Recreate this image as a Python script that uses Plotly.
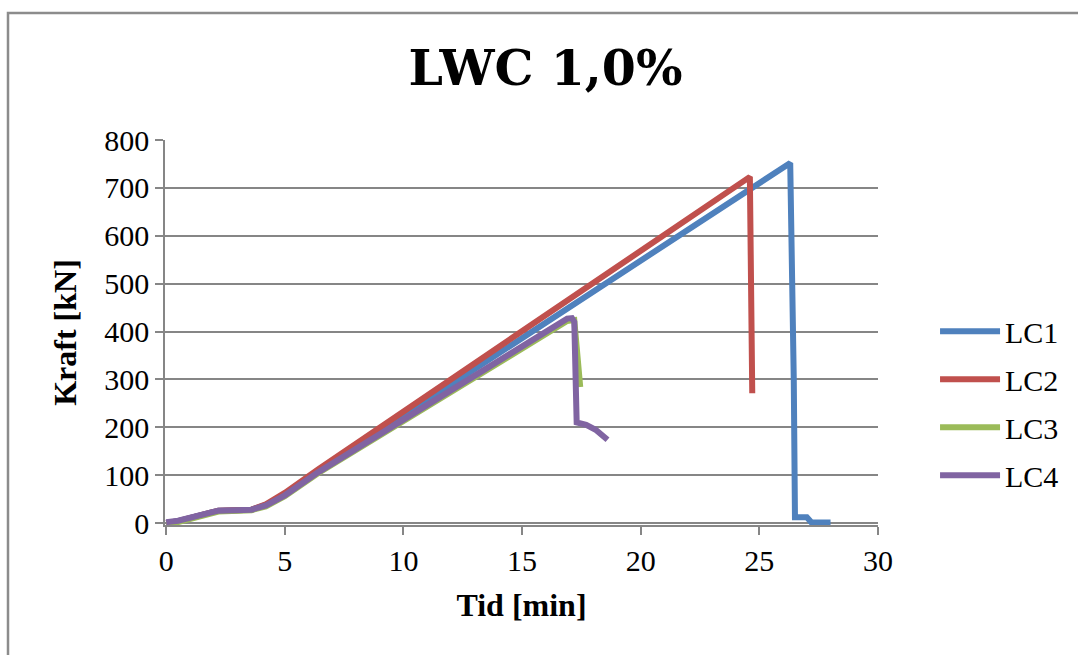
import plotly.graph_objects as go

# Data (Tid [min], Kraft [kN])
lc1_t = [0.0, 0.5, 2.2, 3.6, 4.2, 5.0, 6.4, 26.3, 26.45, 26.5, 27.0, 27.2, 28.0]
lc1_f = [0, 4, 26, 28, 38, 60, 108, 752, 300, 12, 12, 1, 1]

lc2_t = [0.0, 0.5, 2.2, 3.6, 4.2, 5.0, 6.4, 24.6, 24.7]
lc2_f = [0, 4, 26, 28, 39, 63, 112, 723, 271]

lc3_t = [0.0, 0.5, 2.2, 3.6, 4.2, 5.0, 6.4, 16.9, 17.2, 17.45]
lc3_f = [0, 2, 24, 27, 35, 56, 104, 422, 424, 284]

lc4_t = [0.0, 0.5, 2.2, 3.6, 4.2, 5.0, 6.4, 16.9, 17.1, 17.2, 17.3, 17.7, 18.1, 18.6]
lc4_f = [2, 5, 26, 28, 37, 58, 106, 427, 428, 420, 210, 205, 195, 174]

series = [
    ("LC1", lc1_t, lc1_f, "#4F81BD"),
    ("LC2", lc2_t, lc2_f, "#C0504D"),
    ("LC3", lc3_t, lc3_f, "#9BBB59"),
    ("LC4", lc4_t, lc4_f, "#8064A2"),
]

x_ticks = [0, 5, 10, 15, 20, 25, 30]
y_ticks = [0, 100, 200, 300, 400, 500, 600, 700, 800]

serif = "Liberation Serif"
fig = go.Figure()
for name, t, f, c in series:
    fig.add_trace(go.Scatter(x=t, y=f, name=name, mode="lines", legendgroup=name,
                             line=dict(color=c, width=6)))

gray = "#868686"
fig.update_layout(
    width=1078, height=655,
    margin=dict(l=165, r=200, t=140, b=130),
    paper_bgcolor="white", plot_bgcolor="white",
    title=dict(text="<b>LWC 1,0%</b>", x=0.506, xanchor="center", y=0.896, yanchor="middle",
               font=dict(family="DejaVu Serif", size=49, color="black")),
    font=dict(family=serif, size=30, color="black"),
    showlegend=True,
    legend=dict(x=1.08, y=0.316, xanchor="left", yanchor="middle",
                font=dict(family=serif, size=30), traceorder="grouped", tracegroupgap=6,
                itemwidth=60, bgcolor="rgba(0,0,0,0)"),
    xaxis=dict(range=[-0.05, 30], tickvals=x_ticks, showgrid=False, zeroline=False,
               showline=True, linecolor=gray, linewidth=1.5,
               ticks="outside", ticklen=8, tickcolor=gray, tickwidth=1.5,
               tickfont=dict(family=serif, size=30),
               title=dict(text="<b>Tid [min]</b>", font=dict(family=serif, size=32), standoff=18)),
    yaxis=dict(range=[-4, 800], tickvals=y_ticks, showgrid=True, gridcolor=gray, gridwidth=1.5,
               zeroline=False, showline=True, linecolor=gray, linewidth=1.5,
               ticks="outside", ticklen=8, tickcolor=gray, tickwidth=1.5,
               tickfont=dict(family=serif, size=30),
               title=dict(text="<b>Kraft [kN]</b>", font=dict(family=serif, size=32), standoff=18)),
)

# outer chart frame
pw, ph = 713, 385
fig.add_shape(type="rect", xref="paper", yref="paper",
              x0=(8 - 165) / pw, x1=(1090 - 165) / pw,
              y0=(525 - 670) / ph, y1=(525 - 13) / ph,
              line=dict(color="#8c8c8c", width=2.5), layer="below")

fig.write_html("out.html")
